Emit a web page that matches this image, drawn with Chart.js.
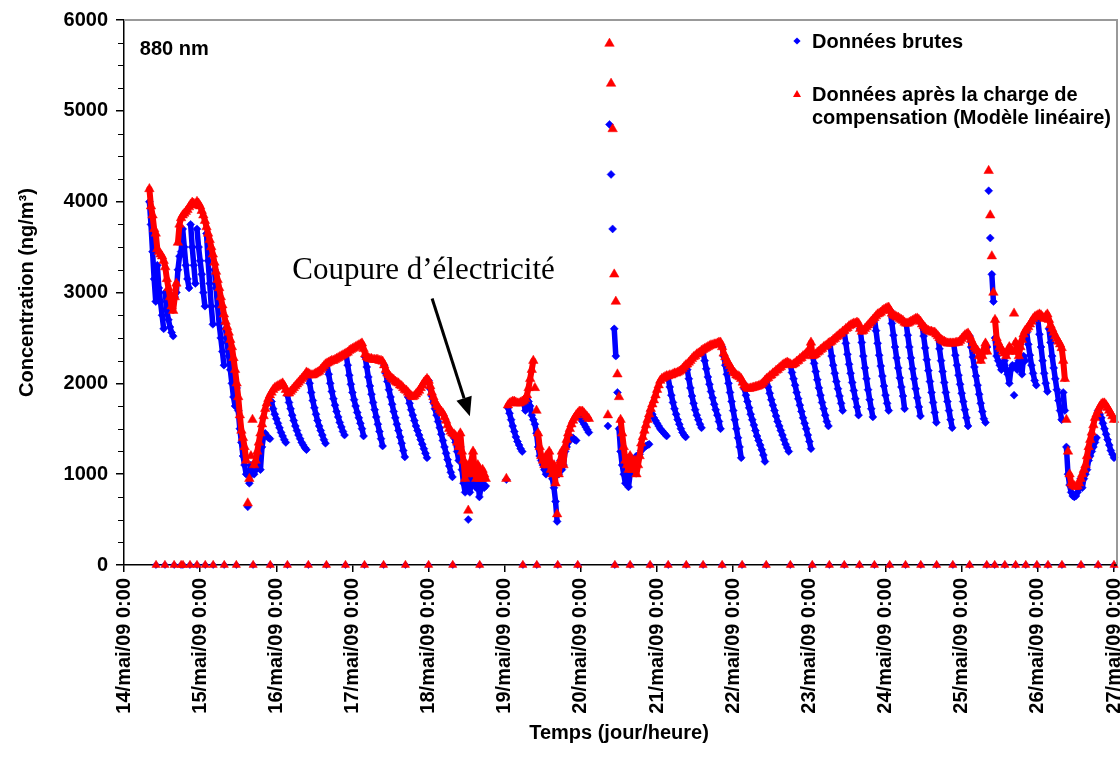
<!DOCTYPE html>
<html>
<head>
<meta charset="utf-8">
<script src="https://cdn.jsdelivr.net/npm/chart.js@4.4.1/dist/chart.umd.min.js"></script>
<style>
  html, body { margin: 0; padding: 0; background: #ffffff; }
  #wrap { width: 1120px; height: 773px; position: relative; }
</style>
</head>
<body>
<div id="wrap"><canvas id="c" width="1120" height="773"></canvas></div>
<script>
// ---- DATA (hours counted from 14/mai/09 0:00, one value every 30 min) ----
const pasHeures = 0.5;
const etiquettesJours = ['14/mai/09 0:00','15/mai/09 0:00','16/mai/09 0:00','17/mai/09 0:00','18/mai/09 0:00','19/mai/09 0:00','20/mai/09 0:00','21/mai/09 0:00','22/mai/09 0:00','23/mai/09 0:00','24/mai/09 0:00','25/mai/09 0:00','26/mai/09 0:00','27/mai/09 0:00'];
const N = null;

// Données brutes (ng/m3)
const brutes = [
  // 14/mai
  N,N,N,N,N,N,N,N,N,N,N,N,N,N,N,N,
  4000,3750,3450,3150,2900,3300,3050,2900, 2750,2600,3000,2800,2700,2620,2560,2520,
  2950,3000,3250,3400,3450,3700,3500,3300, 3150,3050,3750,3500,3300,3100,3700,3500,
  // 15/mai
  3350,3200,3000,2850,3650,3350,3100,2850, 2650,3250,3050,2850,2650,2500,2350,2200,
  2600,2450,2300,2150,2000,1850,1750,1950, 1700,1500,1350,1200,1100,1000,640,900,
  1100,1050,1000,1050,1100,1080,1050,1300, 1420,1450,1420,1400,1390,1800,1720,1660,
  // 16/mai
  1610,1560,1510,1460,1420,1380,1350,1870, 1790,1720,1650,1590,1530,1480,1430,1390,
  1350,1320,1290,1270,2100,2000,1900,1810, 1730,1660,1590,1530,1480,1430,1380,1340,
  2200,2100,2000,1910,1830,1760,1690,1630, 1570,1520,1470,1430,2320,2200,2090,1990,
  // 17/mai
  1900,1820,1750,1680,1620,1560,1500,1420, 2290,2180,2070,1970,1880,1790,1710,1630,
  1550,1470,1390,1310,2200,2110,2020,1930, 1850,1770,1690,1620,1550,1480,1410,1340,
  1260,1190,1920,1850,1780,1710,1650,1590, 1530,1480,1430,1380,1330,1280,1230,1180,
  // 18/mai
  2030,1940,1860,1790,1720,1650,1580,1510, 1440,1370,1300,1230,1160,1090,1020,970,
  1400,1350,1250,1150,1300,1050,900,800, 950,500,800,950,1050,900,850,950,
  750,850,900,850,870,N,N,N, N,N,N,N,N,N,N,N,
  // 19/mai
  N,940,1730,1670,1600,1530,1470,1410, 1360,1320,1280,1250,1780,1700,1850,1800,
  1750,1650,1600,1550,1450,1300,1200,1150, 1100,1050,1000,1100,1150,1050,950,850,
  700,480,1000,1150,1050,1100,1250,1300, 1350,1380,1400,1400,1380,1370,1660,1640,
  // 20/mai
  1610,1580,1550,1520,1490,1460,N,N, N,N,N,N,N,N,N,N,
  N,1530,4850,4300,3700,2600,2300,1900, 1500,1250,1100,1000,900,1000,860,1000,
  1150,1050,1100,1200,1180,1220,1260,1280, 1300,1310,1320,1330,1700,1660,1620,1590,
  // 21/mai
  1560,1530,1500,1480,1460,1440,1420,2060, 1960,1870,1790,1720,1660,1600,1550,1500,
  1460,1430,1410,2150,2050,1950,1860,1780, 1710,1650,1600,1550,1510,2350,2250,2160,
  2070,1990,1910,1840,1770,1710,1650,1580, 1500,2400,2300,2200,2100,2000,1900,1800,
  // 22/mai
  1700,1600,1500,1400,1300,1180,2010,1940, 1870,1800,1730,1660,1600,1540,1480,1420,
  1370,1320,1270,1210,1140,2050,1960,1890, 1820,1760,1700,1640,1580,1530,1480,1430,
  1380,1330,1290,1250,2200,2120,2050,1980, 1900,1830,1760,1690,1620,1560,1500,1430,
  // 23/mai
  1360,1280,2300,2220,2130,2040,1950,1870, 1790,1720,1650,1580,1530,2430,2300,2200,
  2110,2020,1940,1860,1780,1700,2560,2440, 2320,2210,2110,2010,1920,1830,1740,1650,
  2600,2450,2300,2170,2050,1930,1820,1720, 1630,2720,2580,2440,2310,2190,2080,1970,
  // 24/mai
  1870,1780,1700,2800,2660,2530,2400,2280, 2170,2060,1960,1860,1720,2660,2530,2400,
  2280,2160,2050,1940,1840,1740,1640,2650, 2520,2390,2260,2140,2020,1900,1790,1680,
  1570,2520,2380,2250,2130,2010,1900,1800, 1700,1600,1510,2430,2310,2200,2090,1990,
  // 25/mai
  1890,1800,1710,1620,1530,2520,2400,2290, 2180,2080,1980,1880,1780,1690,1610,1570,
  2400,4120,3600,3200,2900,2500,2300,2250, 2200,2150,2200,2250,2150,2100,2000,2150,
  2200,1870,2200,2150,2250,2200,2100,2300, 2250,2560,2430,2310,2200,2110,2030,1980,
  // 26/mai
  2700,2540,2400,2250,2110,2000,1910,2600, 2450,2300,2170,2050,1930,1810,1700,1600,
  1900,1700,1300,1000,880,800,760,750, 760,800,850,950,850,950,1000,1050,
  1150,1200,1250,1300,1350,1400,1700,1660, 1620,1560,1500,1440,1380,1320,1260,1220,
  // 27/mai 0:00
  1180
];

// Données après la charge de compensation (Modèle linéaire) (ng/m3)
const compensees = [
  // 14/mai
  N,N,N,N,N,N,N,N,N,N,N,N,N,N,N,N,
  4140,3950,3850,3700,3650,3480,3450,3420, 3400,3350,3280,3150,3050,2950,2850,2800,
  2950,3100,3550,3750,3820,3850,3870,3890, 3910,3940,3970,3990,3980,3960,4000,3980,
  // 15/mai
  3950,3900,3850,3790,3720,3650,3580,3500, 3420,3330,3230,3140,3050,2950,2860,2760,
  2680,2620,2560,2480,2400,2280,2150,2000, 1850,1650,1480,1400,1300,1150,680,950,
  1200,1600,1100,1150,1250,1350,1450,1550, 1640,1720,1780,1830,1870,1900,1930,1950,
  // 16/mai
  1960,1970,1980,1990,2000,1970,1930,1890, 1890,1910,1930,1950,1970,1990,2010,2030,
  2050,2070,2090,2120,2110,2100,2090,2090, 2100,2110,2120,2130,2150,2170,2190,2210,
  2220,2230,2240,2250,2250,2260,2270,2280, 2290,2300,2310,2320,2330,2340,2360,2370,
  // 17/mai
  2380,2390,2400,2410,2420,2430,2440,2380, 2320,2290,2280,2270,2270,2260,2260,2260,
  2260,2250,2250,2240,2200,2150,2110,2090, 2070,2050,2040,2020,2010,2000,1980,1970,
  1950,1930,1920,1900,1880,1860,1850,1860, 1880,1900,1920,1950,1980,2010,2030,2050,
  // 18/mai
  2030,1970,1900,1850,1800,1760,1740,1710, 1690,1670,1630,1590,1540,1500,1470,1450,
  1440,1420,1350,1300,1450,1250,1150,950, 1100,600,1000,1150,1250,1050,950,1100,
  1000,950,1050,1000,950,N,N,N, N,N,N,N,N,N,N,N,
  // 19/mai
  N,950,1760,1780,1790,1800,1800,1790, 1780,1780,1790,1800,1810,1830,1870,1950,
  2050,2150,2250,1950,1700,1450,1300,1200, 1150,1100,1200,1100,1250,1050,1000,1100,
  900,560,1000,1150,1250,1100,1300,1380, 1450,1500,1550,1590,1620,1650,1670,1690,
  // 20/mai
  1690,1690,1670,1650,1630,1610,N,N, N,N,N,N,N,N,N,N,
  N,1650,5740,5300,4800,3200,2900,2100, 1850,1600,1450,1300,1150,1100,1050,1200,
  1100,1050,1150,1000,1100,1200,1340,1410, 1480,1540,1600,1660,1720,1770,1815,1870,
  // 21/mai
  1930,1980,2030,2050,2060,2070,2080,2080, 2090,2090,2100,2110,2110,2120,2130,2140,
  2160,2180,2200,2210,2230,2250,2270,2290, 2300,2320,2330,2340,2360,2370,2380,2390,
  2400,2410,2420,2420,2430,2430,2440,2450, 2450,2400,2330,2290,2250,2220,2190,2160,
  // 22/mai
  2130,2110,2090,2080,2070,2050,2010,1980, 1960,1945,1940,1945,1950,1955,1960,1965,
  1970,1980,1990,2010,2030,2050,2060,2080, 2090,2110,2120,2140,2150,2170,2180,2200,
  2210,2220,2230,2220,2210,2200,2210,2220, 2240,2250,2270,2280,2300,2310,2330,2350,
  // 23/mai
  2370,2450,2300,2310,2320,2340,2350,2370, 2380,2400,2410,2420,2440,2450,2460,2480,
  2490,2510,2520,2540,2550,2570,2580,2600, 2610,2630,2640,2650,2660,2660,2670,2660,
  2600,2570,2580,2600,2620,2640,2660,2680, 2700,2720,2740,2760,2770,2780,2800,2810,
  // 24/mai
  2820,2830,2835,2800,2770,2750,2740,2730, 2725,2710,2700,2690,2670,2660,2660,2670,
  2680,2690,2700,2710,2715,2700,2680,2650, 2630,2610,2590,2580,2570,2570,2560,2560,
  2540,2520,2500,2480,2470,2460,2450,2440, 2440,2440,2440,2440,2445,2450,2450,2470,
  // 25/mai
  2490,2510,2530,2540,2550,2520,2480,2440, 2400,2380,2360,2300,2250,2300,2380,2440,
  2350,4340,3850,3400,3000,2700,2500,2450, 2400,2380,2350,2330,2300,2350,2400,2380,
  2350,2770,2450,2350,2300,2400,2480,2540, 2580,2600,2620,2650,2680,2710,2730,2740,
  // 26/mai
  2750,2760,2750,2730,2710,2740,2760,2700, 2640,2600,2560,2520,2490,2460,2430,2390,
  2250,2050,1600,1250,1000,900,880,870, 860,870,900,950,1000,1050,1100,1200,
  1300,1380,1460,1540,1620,1660,1700,1740, 1770,1780,1780,1760,1730,1700,1670,1640,
  // 27/mai 0:00
  1600
];

// Instants (heures) où l'appareil enregistre 0 (avance du ruban)
const heuresZero = [10.1,12.9,15.8,18,18.6,20.8,23,25.6,28.1,31.6,35.4,40.7,46.1,51.5,58.1,63.8,69.8,75.8,81.8,88.7,96,103.6,112.1,125.7,130.1,136.7,143,154.7,159.5,165.8,171.5,177.2,182.5,188.5,194.8,202.4,210,216.9,222.3,227,231.8,236.5,241.3,246.3,251.1,256.1,261.2,266.5,271.9,274.4,277.6,281,284.2,287.7,291.2,295.6,301.6,307,312];

// ---- CHART ----
const SANS = "'Liberation Sans', Arial, Helvetica, sans-serif";
const SERIF = "'Liberation Serif', 'Times New Roman', serif";
const BLEU = '#0000ff', ROUGE = '#ff0000';

const versPoints = (valeurs) => valeurs.map((v, i) => ({ x: i * pasHeures, y: v }));
const zeros = heuresZero.map(h => ({ x: h, y: 0 }));

// hide connecting segments on large jumps (tape advance / scattered points)
const segBleu = (ctx) => {
  const d = ctx.p1.parsed.y - ctx.p0.parsed.y;
  return (d > 250 || d < -300) ? 'rgba(0,0,0,0)' : undefined;
};
const segRouge = (ctx) => {
  const d = ctx.p1.parsed.y - ctx.p0.parsed.y;
  return Math.abs(d) > 200 ? 'rgba(0,0,0,0)' : undefined;
};

const decor = {
  id: 'decor',
  afterDraw(chart) {
    const { ctx, chartArea: a, scales: { x, y } } = chart;
    ctx.save();
    // minor ticks on Y axis
    ctx.strokeStyle = '#000'; ctx.lineWidth = 1;
    for (let v = 250; v < 6000; v += 250) {
      if (v % 1000 === 0) continue;
      const py = Math.round(y.getPixelForValue(v)) + 0.5;
      ctx.beginPath(); ctx.moveTo(a.left - 6, py); ctx.lineTo(a.left, py); ctx.stroke();
    }
    // plot area border (top / right)
    ctx.strokeStyle = '#999'; ctx.lineWidth = 2;
    ctx.beginPath();
    ctx.moveTo(a.left, a.top); ctx.lineTo(a.right + 3, a.top); ctx.lineTo(a.right + 3, a.bottom);
    ctx.stroke();
    ctx.strokeStyle = '#000'; ctx.lineWidth = 1.5;
    ctx.beginPath(); ctx.moveTo(a.right, a.bottom); ctx.lineTo(a.right + 3, a.bottom); ctx.stroke();

    // "880 nm"
    ctx.fillStyle = '#000';
    ctx.font = 'bold 20px ' + SANS;
    ctx.textAlign = 'left'; ctx.textBaseline = 'alphabetic';
    ctx.fillText('880 nm', x.getPixelForValue(5), y.getPixelForValue(5615));

    // annotation "Coupure d'électricité" + arrow
    ctx.font = '31px ' + SERIF;
    ctx.textAlign = 'center';
    ctx.fillText('Coupure d\u2019électricité', x.getPixelForValue(94.4), y.getPixelForValue(3154));
    const x0 = x.getPixelForValue(97.1), y0 = y.getPixelForValue(2934);
    const x1 = x.getPixelForValue(109.0), y1 = y.getPixelForValue(1637);
    const ang = Math.atan2(y1 - y0, x1 - x0);
    const headL = 19, headW = 8;
    const bx = x1 - headL * Math.cos(ang), by = y1 - headL * Math.sin(ang);
    ctx.strokeStyle = '#000'; ctx.lineWidth = 3;
    ctx.beginPath(); ctx.moveTo(x0, y0); ctx.lineTo(bx, by); ctx.stroke();
    ctx.beginPath();
    ctx.moveTo(x1, y1);
    ctx.lineTo(bx + headW * Math.sin(ang), by - headW * Math.cos(ang));
    ctx.lineTo(bx - headW * Math.sin(ang), by + headW * Math.cos(ang));
    ctx.closePath(); ctx.fill();

    // legend
    const lx = a.left + 673;
    ctx.font = 'bold 20px ' + SANS;
    ctx.textAlign = 'left'; ctx.textBaseline = 'middle';
    const ly1 = a.top + 21;
    ctx.fillStyle = BLEU;
    ctx.beginPath();
    ctx.moveTo(lx, ly1 - 3.6); ctx.lineTo(lx + 3.6, ly1); ctx.lineTo(lx, ly1 + 3.6); ctx.lineTo(lx - 3.6, ly1);
    ctx.closePath(); ctx.fill();
    ctx.fillStyle = '#000';
    ctx.fillText('Données brutes', lx + 15, ly1 + 1);
    const ly2 = a.top + 74;
    ctx.fillStyle = ROUGE;
    ctx.beginPath();
    ctx.moveTo(lx, ly2 - 4); ctx.lineTo(lx + 4, ly2 + 3); ctx.lineTo(lx - 4, ly2 + 3);
    ctx.closePath(); ctx.fill();
    ctx.fillStyle = '#000';
    ctx.fillText('Données après la charge de', lx + 15, ly2 + 1);
    ctx.fillText('compensation (Modèle linéaire)', lx + 15, ly2 + 24);
    ctx.restore();
  }
};

new Chart(document.getElementById('c'), {
  type: 'scatter',
  data: {
    datasets: [
      {
        label: 'Données brutes',
        data: versPoints(brutes),
        pointStyle: 'rectRot', pointRadius: 4,
        pointBackgroundColor: BLEU, pointBorderColor: BLEU, pointBorderWidth: 0.5,
        showLine: true, borderColor: BLEU, borderWidth: 5.5, spanGaps: false,
        borderJoinStyle: 'round', borderCapStyle: 'round',
        segment: { borderColor: segBleu },
        clip: false, order: 4
      },
      {
        label: 'Données brutes (0)',
        data: zeros,
        pointStyle: 'rectRot', pointRadius: 3.6,
        pointBackgroundColor: BLEU, pointBorderColor: BLEU, pointBorderWidth: 0.5,
        showLine: false, clip: false, order: 3
      },
      {
        label: 'Données après la charge de compensation (Modèle linéaire)',
        data: versPoints(compensees),
        pointStyle: 'triangle', pointRadius: 5.5,
        pointBackgroundColor: ROUGE, pointBorderColor: ROUGE, pointBorderWidth: 0.5,
        showLine: true, borderColor: ROUGE, borderWidth: 6, spanGaps: false,
        borderJoinStyle: 'round', borderCapStyle: 'round',
        segment: { borderColor: segRouge },
        clip: false, order: 2
      },
      {
        label: 'Données après la charge de compensation (0)',
        data: zeros,
        pointStyle: 'triangle', pointRadius: 4.8,
        pointBackgroundColor: ROUGE, pointBorderColor: ROUGE, pointBorderWidth: 0.5,
        showLine: false, clip: false, order: 1
      }
    ]
  },
  options: {
    responsive: false,
    animation: false,
    devicePixelRatio: 1,
    layout: { padding: { top: 19, right: 6, left: 0, bottom: 0 } },
    plugins: { legend: { display: false }, tooltip: { enabled: false } },
    scales: {
      x: {
        type: 'linear',
        min: 0, max: 312,
        afterFit(s) { s.height = 208; s.paddingLeft = 0; s.paddingRight = 0; },
        ticks: {
          stepSize: 24,
          autoSkip: false,
          maxRotation: 90, minRotation: 90,
          padding: 6,
          color: '#000',
          font: { family: SANS, size: 20, weight: 'bold' },
          callback: (v) => etiquettesJours[Math.round(v / 24)]
        },
        grid: { display: true, drawOnChartArea: false, drawTicks: true, tickLength: 7, color: '#000', lineWidth: 1.5 },
        border: { display: true, color: '#000', width: 1.5 },
        title: {
          display: true, text: 'Temps (jour/heure)', color: '#000',
          font: { family: SANS, size: 20, weight: 'bold' },
          padding: { top: 0, bottom: 28 }
        }
      },
      y: {
        min: 0, max: 6000,
        afterFit(s) { s.width = 124; },
        ticks: {
          stepSize: 1000,
          padding: 8,
          color: '#000',
          font: { family: SANS, size: 20, weight: 'bold' },
          callback: (v) => String(v)
        },
        grid: { display: true, drawOnChartArea: false, drawTicks: true, tickLength: 8, color: '#000', lineWidth: 1.5 },
        border: { display: true, color: '#000', width: 1.5 },
        title: {
          display: true, text: 'Concentration (ng/m³)', color: '#000',
          font: { family: SANS, size: 20, weight: 'bold' },
          padding: { top: 15, bottom: 0 }
        }
      }
    }
  },
  plugins: [decor]
});
</script>
</body>
</html>
